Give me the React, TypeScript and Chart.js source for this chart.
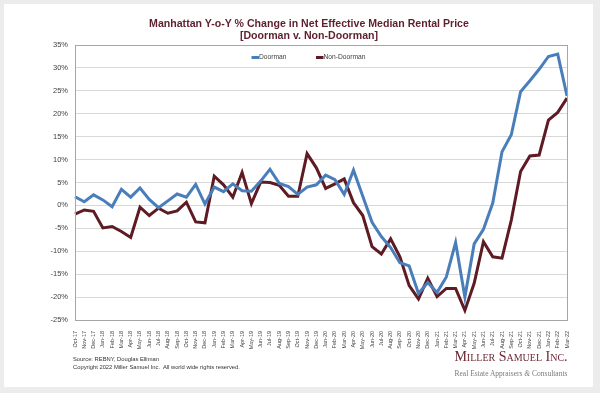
import React, { useEffect, useRef } from "react";
import { Chart, registerables } from "chart.js";

Chart.register(...registerables);

const months: string[] = [
  "Oct-17", "Nov-17", "Dec-17",
  "Jan-18", "Feb-18", "Mar-18", "Apr-18", "May-18", "Jun-18", "Jul-18", "Aug-18", "Sep-18", "Oct-18", "Nov-18", "Dec-18",
  "Jan-19", "Feb-19", "Mar-19", "Apr-19", "May-19", "Jun-19", "Jul-19", "Aug-19", "Sep-19", "Oct-19", "Nov-19", "Dec-19",
  "Jan-20", "Feb-20", "Mar-20", "Apr-20", "May-20", "Jun-20", "Jul-20", "Aug-20", "Sep-20", "Oct-20", "Nov-20", "Dec-20",
  "Jan-21", "Feb-21", "Mar-21", "Apr-21", "May-21", "Jun-21", "Jul-21", "Aug-21", "Sep-21", "Oct-21", "Nov-21", "Dec-21",
  "Jan-22", "Feb-22", "Mar-22",
];

const doorman: number[] = [
  1.9, 0.8, 2.3,
  1.2, -0.3, 3.5, 1.8, 3.8, 1.3, -0.5, 1.0, 2.5, 1.8, 4.6, 0.3,
  4.0, 3.0, 4.7, 3.2, 3.1, 5.3, 7.9, 4.8, 4.1, 2.4, 4.0, 4.5,
  6.6, 5.6, 2.4, 7.7, 2.0, -3.7, -6.8, -9.2, -12.5, -13.2, -19.2, -16.8,
  -19.0, -15.6, -8.1, -20.0, -8.4, -5.2, 0.5, 11.7, 15.4, 24.8, 27.2, 29.7,
  32.5, 33.0, 23.9,
];

const nonDoorman: number[] = [
  -1.9, -1.0, -1.3,
  -4.9, -4.6, -5.7, -7.0, -0.4, -2.2, -0.6, -1.7, -1.2, 0.7, -3.6, -3.8,
  6.4, 4.5, 1.8, 7.2, 0.4, 5.1, 5.0, 4.4, 2.0, 2.0, 11.3, 8.2,
  3.7, 4.7, 5.8, 0.6, -2.2, -9.0, -10.6, -7.3, -11.2, -17.5, -20.4, -15.9,
  -19.9, -18.1, -18.1, -22.9, -17.0, -7.9, -11.2, -11.5, -3.2, 7.4, 10.8, 11.0,
  18.6, 20.3, 23.4,
];

const seriesNames: string[] = ["Doorman", "Non-Doorman"];
const seriesColors: string[] = ["#4a7ebb", "#5e1b24"];

const yMin = -25;
const yMax = 35;
const yStep = 5;

const chartTitle: string[] = [
  "Manhattan Y-o-Y % Change in Net Effective Median Rental Price",
  "[Doorman v. Non-Doorman]",
];

const FONT = "'Liberation Sans', Arial, sans-serif";

const frameAndLegend = {
  id: "frameAndLegend",
  afterDatasetsDraw(chart: any) {
    const { ctx, chartArea } = chart;
    ctx.save();
    ctx.strokeStyle = "#a6a6a6";
    ctx.lineWidth = 1;
    ctx.strokeRect(
      Math.round(chartArea.left) + 0.5,
      Math.round(chartArea.top) + 0.5,
      Math.round(chartArea.right - chartArea.left),
      Math.round(chartArea.bottom - chartArea.top)
    );
    const items = [
      { x: 251.5, name: seriesNames[0], color: seriesColors[0] },
      { x: 316, name: seriesNames[1], color: seriesColors[1] },
    ];
    const y = 57.5;
    ctx.font = `6.7px ${FONT}`;
    ctx.textBaseline = "middle";
    ctx.textAlign = "left";
    items.forEach((it) => {
      ctx.strokeStyle = it.color;
      ctx.lineWidth = 3;
      ctx.beginPath();
      ctx.moveTo(it.x, y);
      ctx.lineTo(it.x + 7.5, y);
      ctx.stroke();
      ctx.fillStyle = "#404040";
      ctx.fillText(it.name, it.x + 7.5, y);
    });
    ctx.restore();
  },
};

export default function App() {
  const canvasRef = useRef<HTMLCanvasElement | null>(null);

  useEffect(() => {
    if (!canvasRef.current) return;
    const chart = new Chart(canvasRef.current, {
      type: "line",
      data: {
        labels: months,
        datasets: [
          {
            label: seriesNames[0],
            data: doorman,
            borderColor: seriesColors[0],
            backgroundColor: seriesColors[0],
            borderWidth: 3,
            pointRadius: 0,
            tension: 0,
            borderJoinStyle: "miter" as const,
          },
          {
            label: seriesNames[1],
            data: nonDoorman,
            borderColor: seriesColors[1],
            backgroundColor: seriesColors[1],
            borderWidth: 3,
            pointRadius: 0,
            tension: 0,
            borderJoinStyle: "miter" as const,
          },
        ],
      },
      options: {
        responsive: false,
        animation: false,
        events: [],
        layout: { padding: { left: 20, right: 33, top: 45, bottom: 42 } },
        plugins: {
          legend: { display: false },
          title: { display: false },
          tooltip: { enabled: false },
        },
        scales: {
          x: {
            type: "category",
            offset: false,
            grid: { display: false },
            border: { display: true, color: "#a6a6a6", width: 1 },
            ticks: {
              autoSkip: false,
              maxRotation: 90,
              minRotation: 90,
              padding: 3,
              color: "#404040",
              font: { size: 5.5, family: FONT },
            },
            afterFit: (s: any) => {
              s.height = 31;
            },
          },
          y: {
            min: yMin,
            max: yMax,
            ticks: {
              stepSize: yStep,
              padding: 7,
              color: "#404040",
              font: { size: 7.5, family: FONT },
              callback: (v: any) => `${v}%`,
            },
            grid: { color: "#d9d9d9", lineWidth: 1, drawTicks: false },
            border: { display: true, color: "#a6a6a6", width: 1 },
            afterFit: (s: any) => {
              s.width = 55;
            },
          },
        },
      },
      plugins: [frameAndLegend],
    });
    return () => chart.destroy();
  }, []);

  return (
    <div
      style={{
        position: "fixed",
        left: 0,
        top: 0,
        width: 600,
        height: 393,
        background: "#ececec",
        overflow: "hidden",
        fontFamily: FONT,
      }}
    >
      <div
        style={{
          position: "absolute",
          left: 4,
          top: 4,
          width: 589,
          height: 383,
          background: "#ffffff",
        }}
      />
      <canvas
        ref={canvasRef}
        width={600}
        height={393}
        style={{ position: "absolute", left: 0, top: 0, width: 600, height: 393 }}
      />
      <div
        style={{
          position: "absolute",
          left: 0,
          top: 16.5,
          width: 618,
          textAlign: "center",
          fontWeight: "bold",
          fontSize: 10.6,
          lineHeight: "12px",
          color: "#5e1f2e",
        }}
      >
        {chartTitle.map((t) => (
          <div key={t}>{t}</div>
        ))}
      </div>
      <div
        style={{
          position: "absolute",
          left: 73,
          top: 354.5,
          fontSize: 5.8,
          lineHeight: "8.5px",
          color: "#333333",
          whiteSpace: "pre",
        }}
      >
        <div>Source: REBNY, Douglas Elliman</div>
        <div>Copyright 2022 Miller Samuel Inc.  All world wide rights reserved.</div>
      </div>
      <div
        style={{
          position: "absolute",
          left: 452,
          top: 347.5,
          width: 118,
          textAlign: "center",
          fontFamily: "'Liberation Serif', 'Times New Roman', serif",
          color: "#6e2a35",
          fontSize: 14,
          lineHeight: "17px",
          fontVariant: "small-caps",
          whiteSpace: "nowrap",
        }}
      >
        Miller Samuel Inc.
      </div>
      <div
        style={{
          position: "absolute",
          left: 452,
          top: 369,
          width: 118,
          textAlign: "center",
          fontFamily: "'Liberation Serif', 'Times New Roman', serif",
          color: "#7a7a7a",
          fontSize: 7.5,
          lineHeight: "10px",
          whiteSpace: "nowrap",
        }}
      >
        Real Estate Appraisers <i>&amp;</i> Consultants
      </div>
    </div>
  );
}
